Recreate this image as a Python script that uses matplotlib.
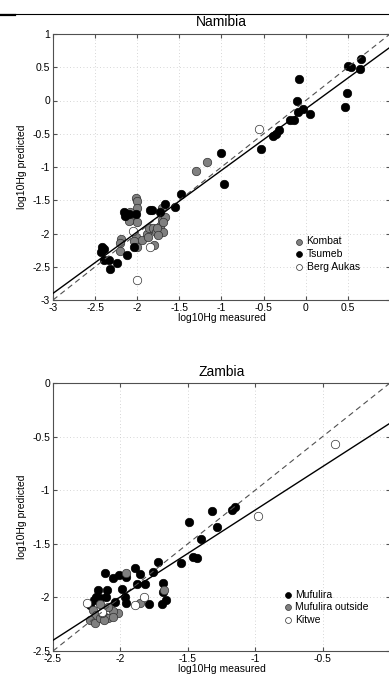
import numpy as np
import matplotlib
matplotlib.use("Agg")
import matplotlib.pyplot as plt
from matplotlib.lines import Line2D

# Namibia
kombat_x = [-1.17, -1.30, -2.02, -2.00, -2.00, -2.09, -2.09, -2.00, -2.19, -2.20, -2.20, -2.02,
            -2.04, -2.00, -1.945, -1.88, -1.86, -1.80, -1.87, -1.81, -1.78, -1.73, -1.69, -1.71,
            -1.67, -1.71, -1.77, -1.69, -1.75, -2.10]
kombat_y = [-0.92, -1.06, -1.47, -1.51, -1.62, -1.67, -1.79, -1.82, -2.09, -2.15, -2.27, -2.05,
            -2.12, -2.20, -2.10, -2.00, -1.92, -2.17, -2.05, -1.91, -1.97, -1.89, -1.98, -1.80,
            -1.75, -1.62, -1.92, -1.82, -2.02, -1.81]
tsumeb_x = [0.655, 0.647, 0.496, 0.536, 0.488, 0.464, -0.08, -0.107, -0.09, -0.03, 0.048, -0.19,
            -0.14, -0.32, -0.385, -0.35, -0.536, -1.0, -0.968, -1.48, -1.55, -1.67, -1.73, -1.83,
            -2.16, -2.10, -2.02, -2.15, -2.42, -2.40, -2.43, -2.39, -2.33, -2.24, -2.32, -2.12,
            -2.04, -1.85]
tsumeb_y = [0.62, 0.47, 0.52, 0.50, 0.117, -0.093, 0.33, -0.008, -0.18, -0.13, -0.20, -0.29,
            -0.30, -0.45, -0.54, -0.50, -0.73, -0.79, -1.26, -1.40, -1.60, -1.56, -1.68, -1.64,
            -1.67, -1.71, -1.70, -1.73, -2.20, -2.23, -2.28, -2.40, -2.40, -2.45, -2.53, -2.33,
            -2.20, -1.65]
berg_x = [-0.556, -2.05, -1.85, -2.00]
berg_y = [-0.43, -1.96, -2.20, -2.70]
namibia_fit = (0.925, -0.125)

# Zambia
mufulira_x = [-1.489, -1.40, -1.465, -1.435, -1.548, -1.72, -1.755, -1.686, -1.686, -1.66, -1.69,
              -1.79, -1.816, -1.88, -1.895, -1.858, -1.956, -2.013, -2.055, -1.99, -1.968, -1.956,
              -2.04, -2.116, -2.10, -2.104, -2.166, -2.183, -2.197, -2.227, -2.153, -1.321, -1.174,
              -1.149, -1.287]
mufulira_y = [-1.294, -1.455, -1.62, -1.635, -1.676, -1.667, -1.76, -1.863, -1.947, -2.024, -2.065,
              -2.06, -1.878, -1.875, -1.73, -1.78, -1.807, -1.79, -1.82, -1.924, -1.993, -2.055,
              -2.04, -1.775, -1.93, -1.993, -1.93, -1.993, -2.024, -2.07, -2.008, -1.19, -1.185,
              -1.16, -1.34]
outside_x = [-1.956, -1.673, -1.858, -2.018, -2.055, -2.092, -2.116, -2.092, -2.153, -2.20, -2.178,
             -2.227, -2.19, -2.153, -2.124, -2.055, -2.14]
outside_y = [-1.77, -1.93, -2.05, -2.143, -2.124, -2.087, -2.18, -2.195, -2.06, -2.117, -2.164,
             -2.21, -2.236, -2.195, -2.21, -2.18, -2.148]
kitwe_x = [-2.247, -2.136, -1.895, -1.828, -0.977, -0.406]
kitwe_y = [-2.05, -2.133, -2.07, -1.993, -1.24, -0.572]
zambia_fit = (0.81, -0.375)

GRAY = "#808080"


def style_axes(ax, xlim, ylim, xticks, yticks):
    ax.set_xlim(xlim)
    ax.set_ylim(ylim)
    ax.set_xticks(xticks)
    ax.set_yticks(yticks)
    ax.set_xticklabels([f"{t:g}" for t in xticks])
    ax.set_yticklabels([f"{t:g}" for t in yticks])
    ax.tick_params(direction="in", top=True, right=True, labelsize=7.5, length=3,
                   color="#505050", pad=2)
    for s in ax.spines.values():
        s.set_color("#505050")
        s.set_linewidth(0.8)
    ax.grid(True, linestyle=(0, (1, 3)), color="#c8c8c8", linewidth=0.6)
    ax.set_axisbelow(True)
    ax.set_xlabel("log10Hg measured", fontsize=7.5, labelpad=0)
    ax.set_ylabel("log10Hg predicted", fontsize=7.5, labelpad=4)


def draw_lines(ax, xlim, fit):
    xs = np.array(xlim)
    ax.plot(xs, xs, "--", color="#505050", linewidth=0.8, dashes=(5, 3.5), zorder=4)
    ax.plot(xs, fit[0] * xs + fit[1], "-", color="black", linewidth=1.0, zorder=4)


def main():
    plt.rcParams["font.family"] = ["Liberation Sans", "DejaVu Sans"]
    fig = plt.figure(figsize=(3.89, 6.77), dpi=100)

    ms = 37
    # top panel: Namibia
    ax1 = fig.add_axes([53 / 389, 1 - 300 / 677, 337 / 389, 266 / 677])
    ax1.scatter(kombat_x, kombat_y, s=ms, c=GRAY, edgecolors="#303030", linewidths=0.5,
                label="Kombat", zorder=3)
    ax1.scatter(tsumeb_x, tsumeb_y, s=ms, c="black", edgecolors="black", linewidths=0.5,
                label="Tsumeb", zorder=3)
    ax1.scatter(berg_x, berg_y, s=ms, c="white", edgecolors="#303030", linewidths=0.5,
                label="Berg Aukas", zorder=3)
    draw_lines(ax1, (-3, 1), namibia_fit)
    style_axes(ax1, (-3, 1), (-3, 1), [-3, -2.5, -2, -1.5, -1, -0.5, 0, 0.5],
               [-3, -2.5, -2, -1.5, -1, -0.5, 0, 0.5, 1])
    ax1.set_title("Namibia", fontsize=10, pad=6)
    ax1.legend(loc="upper left", bbox_to_anchor=(0.7, 0.255), frameon=False, fontsize=7.5,
               handletextpad=0.1, borderaxespad=0, labelspacing=0.25, markerscale=0.7,
               handlelength=1.2)

    # bottom panel: Zambia
    ax2 = fig.add_axes([53 / 389, 1 - 651 / 677, 337 / 389, 268 / 677])
    ax2.scatter(mufulira_x, mufulira_y, s=ms, c="black", edgecolors="black", linewidths=0.5,
                label="Mufulira", zorder=3)
    ax2.scatter(outside_x, outside_y, s=ms, c=GRAY, edgecolors="#303030", linewidths=0.5,
                label="Mufulira outside", zorder=3)
    ax2.scatter(kitwe_x, kitwe_y, s=ms, c="white", edgecolors="#303030", linewidths=0.5,
                label="Kitwe", zorder=3)
    draw_lines(ax2, (-2.5, 0), zambia_fit)
    style_axes(ax2, (-2.5, 0), (-2.5, 0), [-2.5, -2, -1.5, -1, -0.5],
               [-2.5, -2, -1.5, -1, -0.5, 0])
    ax2.set_title("Zambia", fontsize=10, pad=5)
    ax2.legend(loc="upper left", bbox_to_anchor=(0.665, 0.245), frameon=False, fontsize=7.5,
               handletextpad=0.1, borderaxespad=0, labelspacing=0.25, markerscale=0.7,
               handlelength=1.2)

    # page rule above the figure
    fig.add_artist(Line2D([0, 1], [1 - 14 / 677] * 2, color="black", linewidth=0.8))
    fig.add_artist(Line2D([0, 15 / 389], [1 - 14.5 / 677] * 2, color="black", linewidth=1.6))

    fig.savefig("out.png", dpi=100)
    plt.close(fig)


if __name__ == "__main__":
    main()
